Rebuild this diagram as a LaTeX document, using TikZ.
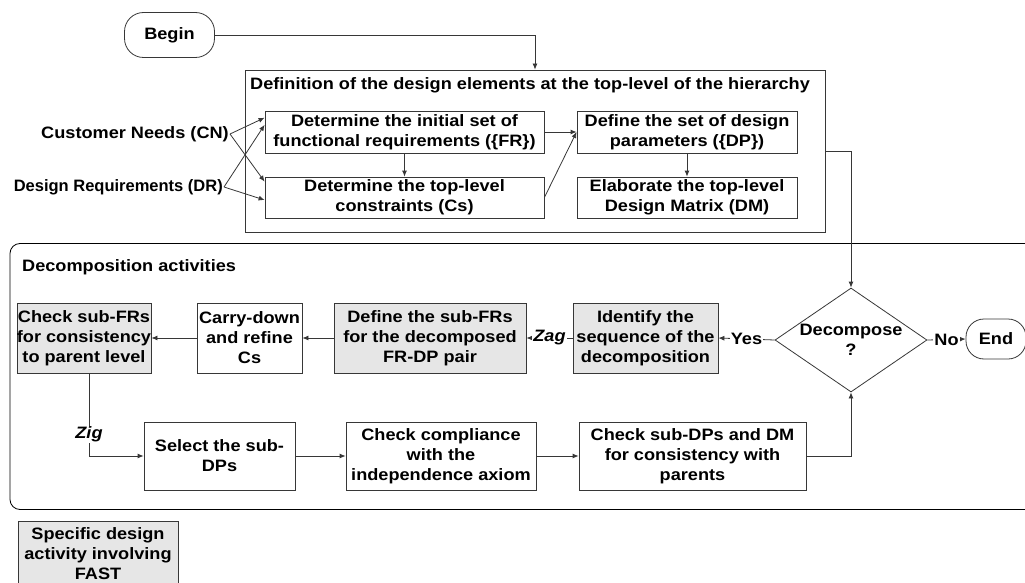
\documentclass[tikz,border=0pt]{standalone}
\usepackage{fontspec}
\setmainfont{Liberation Sans}[FakeStretch=1.1]
\newfontfamily\narrowsans{Liberation Sans}
\usetikzlibrary{arrows.meta,shapes.geometric,calc}
\definecolor{actfill}{RGB}{230,230,230}
\definecolor{edge}{RGB}{55,55,55}
\begin{document}
\begin{tikzpicture}[x=1pt,y=-1pt,
  font=\fontsize{16.5}{20}\selectfont\bfseries,
  act/.style={draw=edge,line width=0.8pt,align=center,inner sep=0pt,fill=white},
  fastact/.style={act,fill=actfill},
  pill/.style={act,rounded corners=19pt},
  flow/.style={draw=edge,line width=0.8pt,-{Latex[length=6pt,width=5pt]}},
  lbl/.style={fill=white,inner sep=1pt},
  zlbl/.style={lbl,font=\fontsize{16.5}{20}\selectfont\bfseries\itshape}]
\useasboundingbox (0,0) rectangle (1025,583);
\clip (0,0) rectangle (1025,583);

% start
\node[pill,minimum width=90pt,minimum height=45pt] (begin) at (169.5,35) {Begin};

% top-level definition block
\node[act,minimum width=580pt,minimum height=162pt] (top) at (535,151) {};
\node[anchor=west,inner sep=0pt] (toptitle) at (250,85) {Definition of the design elements at the top-level of the hierarchy};
\node[act,minimum width=279pt,minimum height=42pt] (fr) at (404.5,132) {Determine the initial set of\\functional requirements (\{FR\})};
\node[act,minimum width=279pt,minimum height=41pt] (cs) at (404.5,197.5) {Determine the top-level\\constraints (Cs)};
\node[act,minimum width=220pt,minimum height=42pt] (dp) at (687,132) {Define the set of design\\parameters (\{DP\})};
\node[act,minimum width=220pt,minimum height=41pt] (dm) at (687,197.5) {Elaborate the top-level\\Design Matrix (DM)};
\node[anchor=east,inner sep=1pt] (cn) at (230,134) {Customer Needs (CN)};
\node[anchor=east,inner sep=1pt,font=\fontsize{16.5}{20}\selectfont\narrowsans\bfseries] (dr) at (224,187) {Design Requirements (DR)};

\coordinate (frA) at ($(fr.north west)!0.167!(fr.south west)$);
\coordinate (frB) at ($(fr.north west)!0.333!(fr.south west)$);
\coordinate (csA) at ($(cs.north west)!0.12!(cs.south west)$);
\coordinate (csB) at ($(cs.north west)!0.56!(cs.south west)$);

\draw[flow] (begin.east) -| (top.north);
\draw[flow] (cn.east) -- (frA);
\draw[flow] (cn.east) -- (csA);
\draw[flow] (dr.east) -- (frB);
\draw[flow] (dr.east) -- (csB);
\draw[flow] (fr) -- (cs);
\draw[flow] (dp) -- (dm);
\draw[flow] (fr.east) -- (dp.west);
\draw[flow] (cs.east) -- (dp.west);

% decomposition block
\node[draw=black,line width=0.8pt,rounded corners=10pt,minimum width=1040pt,minimum height=266pt,inner sep=0pt] (decomp) at (530,376.5) {};
\node[anchor=west,inner sep=0pt] (dectitle) at (22,267) {Decomposition activities};

\node[fastact,minimum width=132pt,minimum height=70pt] (chkfr) at (84,338) {Check sub-FRs\\for consistency\\to parent level};
\node[act,minimum width=105pt,minimum height=70pt] (carry) at (249.5,338) {Carry-down\\and refine\\Cs};
\node[fastact,minimum width=192pt,minimum height=70pt] (deffr) at (430,338) {Define the sub-FRs\\for the decomposed\\FR-DP pair};
\node[fastact,minimum width=145pt,minimum height=70pt] (ident) at (645.5,338) {Identify the\\sequence of the\\decomposition};
\node[act,diamond,aspect=1.46,minimum width=152pt,minimum height=104pt] (dec) at (851,340) {Decompose\\?};
\node[pill,minimum width=60pt,minimum height=40pt,rounded corners=18pt] (end) at (996,339) {End};

\node[act,minimum width=151pt,minimum height=68pt] (select) at (219.5,456) {Select the sub-\\DPs};
\node[act,minimum width=190pt,minimum height=68pt] (comp) at (441,456) {Check compliance\\with the\\independence axiom};
\node[act,minimum width=227pt,minimum height=68pt] (subdp) at (692.5,456) {Check sub-DPs and DM\\for consistency with\\parents};

\draw[flow] (top.east) -| (dec.north);
\draw[flow] (dec.west) -- node[lbl] {Yes} (ident.east);
\draw[flow] (dec.east) -- node[lbl] {No} (end.west);
\draw[flow] (ident.west) -- node[zlbl] {Zag} (deffr.east);
\draw[flow] (deffr.west) -- (carry.east);
\draw[flow] (carry.west) -- (chkfr.east);
\draw[flow] ([xshift=5pt]chkfr.south) |- node[zlbl,pos=0.37] {Zig} (select.west);
\draw[flow] (select.east) -- (comp.west);
\draw[flow] (comp.east) -- (subdp.west);
\draw[flow] (subdp.east) -| (dec.south);

% legend
\node[fastact,anchor=north,minimum width=160pt,minimum height=64pt] (legend) at (98,521) {Specific design\\activity involving\\FAST};
\end{tikzpicture}
\end{document}
